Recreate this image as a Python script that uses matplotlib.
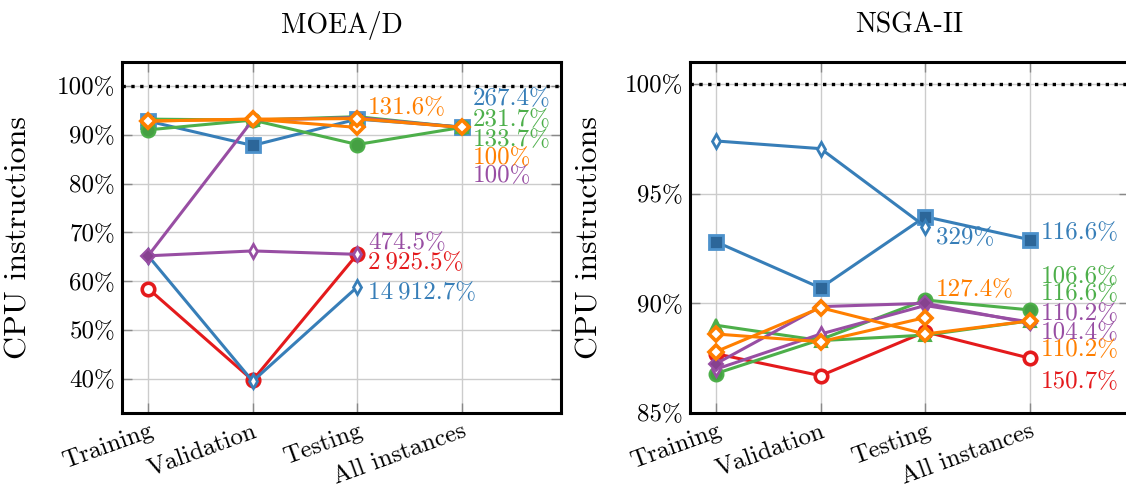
import numpy as np
import matplotlib
matplotlib.use("Agg")
from matplotlib import pyplot as plt
from matplotlib import transforms
from matplotlib.ticker import FuncFormatter

plt.rcParams["font.family"] = ["cmr10", "DejaVu Serif"]
plt.rcParams["mathtext.fontset"] = "cm"
plt.rcParams["axes.formatter.use_mathtext"] = True

nan = np.nan
categories = ["Training", "Validation", "Testing", "All instances"]

RED, BLUE, GREEN, PURPLE, ORANGE = "#e41a1c", "#377eb8", "#4daf4a", "#984ea3", "#ff7f00"

# series order: red, blue square, blue diamond, green circle, green triangle,
# purple open, purple filled, orange A, orange B
moead_red = [58.5, 39.7, 65.5, nan]
moead_blue_sq = [92.8, 87.8, 93.2, 91.6]
moead_blue_d = [65.2, 39.5, 58.8, nan]
moead_green_o = [91.0, 93.0, 88.0, 91.5]
moead_green_tri = [93.2, 93.0, 93.7, 91.5]
moead_purple_a = [65.2, 66.2, 65.5, nan]
moead_purple_b = [65.2, 93.0, 93.5, 91.5]
moead_orange_a = [92.8, 93.2, 91.5, nan]
moead_orange_b = [92.8, 93.2, 93.3, 91.5]
moead_labels = ["2\u2009925.5%", "267.4%", "14\u2009912.7%", "231.7%", "133.7%",
                "474.5%", "100%", "131.6%", "100%"]

nsga_red = [87.7, 86.7, 88.7, 87.5]
nsga_blue_sq = [92.8, 90.7, 93.95, 92.9]
nsga_blue_d = [97.4, 97.05, 93.5, nan]
nsga_green_o = [86.8, 88.35, 90.15, 89.7]
nsga_green_tri = [89.0, 88.3, 88.55, 89.2]
nsga_purple_a = [87.0, 88.6, 89.9, 89.15]
nsga_purple_b = [87.25, 89.85, 90.0, 89.1]
nsga_orange_a = [88.6, 88.25, 89.35, nan]
nsga_orange_b = [87.8, 89.8, 88.6, 89.2]
nsga_labels = ["150.7%", "116.6%", "329%", "106.6%", "116.6%",
               "110.2%", "104.4%", "127.4%", "110.2%"]

styles = [
    dict(color=RED, marker="o", mfc="white", mec=RED, ms=9, mew=2.6),
    dict(color=BLUE, marker="s", mfc="#2c6699", mec="#4d92cc", ms=10, mew=2),
    dict(color=BLUE, marker="d", mfc="white", mec=BLUE, ms=7, mew=2),
    dict(color=GREEN, marker="o", mfc="#45a043", mec=GREEN, ms=10, mew=1.5),
    dict(color=GREEN, marker="^", mfc=GREEN, mec=GREEN, ms=8, mew=1.5),
    dict(color=PURPLE, marker="d", mfc="white", mec=PURPLE, ms=7, mew=2),
    dict(color=PURPLE, marker="D", mfc="#86428f", mec=PURPLE, ms=7, mew=1.5),
    dict(color=ORANGE, marker="D", mfc="white", mec=ORANGE, ms=7, mew=2.6),
    dict(color=ORANGE, marker="D", mfc="white", mec=ORANGE, ms=7, mew=2.6),
]
label_colors = [RED, BLUE, BLUE, GREEN, GREEN, PURPLE, PURPLE, ORANGE, ORANGE]

# label offsets (pixels, up positive) from each series' last point
moead_dy = [-9, 27.6, -6.5, 7, -13, 11, -49, 19.5, -31]
nsga_dy = [-23.5, 7, -12, 33, 27, 7.5, -10, 28, -29]

panels = [
    ("MOEA/D", [moead_red, moead_blue_sq, moead_blue_d, moead_green_o, moead_green_tri,
                moead_purple_a, moead_purple_b, moead_orange_a, moead_orange_b],
     moead_labels, moead_dy, (33.0, 104.9), [40, 50, 60, 70, 80, 90, 100], 122, -0.203),
    ("NSGA-II", [nsga_red, nsga_blue_sq, nsga_blue_d, nsga_green_o, nsga_green_tri,
                 nsga_purple_a, nsga_purple_b, nsga_orange_a, nsga_orange_b],
     nsga_labels, nsga_dy, (85.0, 101.0), [85, 90, 95, 100], 690, -0.198),
]

W, H = 1126, 484
fig = plt.figure(figsize=(W / 100, H / 100), dpi=100)
x = np.arange(len(categories))

for title, series, labels, dys, ylim, yticks, left_px, ylab_x in panels:
    ax = fig.add_axes([left_px / W, (H - 413) / H, 439 / W, 351 / H])
    ax.axhline(100, color="black", ls=":", lw=2.4, zorder=1)
    for vals, st, lab, col, dy in zip(series, styles, labels, label_colors, dys):
        vals = np.array(vals, dtype=float)
        ax.plot(x, vals, lw=2.2, zorder=3, **st)
        last = np.where(~np.isnan(vals))[0][-1]
        ax.annotate(lab, (x[last], vals[last]), xytext=(11 * 0.72, dy * 0.72),
                    textcoords="offset points", ha="left", va="center",
                    color=col, fontsize=18, zorder=4)
    ax.set_xlim(-0.25, 3.95)
    ax.set_ylim(*ylim)
    ax.set_yticks(yticks)
    ax.yaxis.set_major_formatter(FuncFormatter(lambda v, p: f"{v:g}%"))
    ax.set_xticks(x)
    ax.set_xticklabels(categories, rotation=20, ha="right", va="top",
                       rotation_mode="anchor")
    offset = transforms.ScaledTranslation(12 / 100, 0, fig.dpi_scale_trans)
    for t in ax.get_xticklabels():
        t.set_transform(t.get_transform() + offset)
    ax.grid(True, color="#cccccc", lw=1, zorder=0)
    ax.set_axisbelow(True)
    ax.tick_params(direction="in", length=7, color="#888888", width=1,
                   top=True, right=True, labelsize=18, pad=5)
    for sp in ax.spines.values():
        sp.set_linewidth(2.2)
        sp.set_color("black")
    ax.set_title(title, fontsize=20, pad=21)
    ax.set_ylabel("CPU instructions", fontsize=23)
    ax.yaxis.set_label_coords(ylab_x, 0.5)

fig.savefig("out.png", dpi=100)
